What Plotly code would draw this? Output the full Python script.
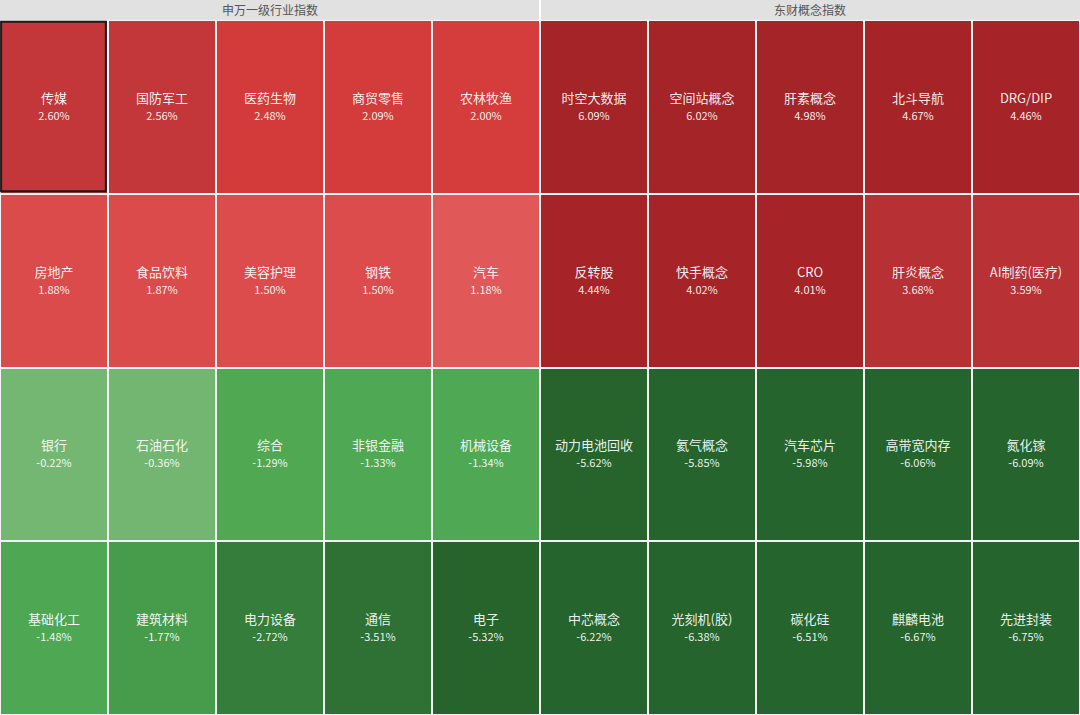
import numpy as np
import plotly.graph_objects as go

# 数据：两个板块，各4行5列，按涨跌幅从大到小排列
groups = ["申万一级行业指数", "东财概念指数"]

sw_names = ["传媒", "国防军工", "医药生物", "商贸零售", "农林牧渔",
            "房地产", "食品饮料", "美容护理", "钢铁", "汽车",
            "银行", "石油石化", "综合", "非银金融", "机械设备",
            "基础化工", "建筑材料", "电力设备", "通信", "电子"]
sw_pct = [2.60, 2.56, 2.48, 2.09, 2.00,
          1.88, 1.87, 1.50, 1.50, 1.18,
          -0.22, -0.36, -1.29, -1.33, -1.34,
          -1.48, -1.77, -2.72, -3.51, -5.32]

dc_names = ["时空大数据", "空间站概念", "肝素概念", "北斗导航", "DRG/DIP",
            "反转股", "快手概念", "CRO", "肝炎概念", "AI制药(医疗)",
            "动力电池回收", "氦气概念", "汽车芯片", "高带宽内存", "氮化镓",
            "中芯概念", "光刻机(胶)", "碳化硅", "麒麟电池", "先进封装"]
dc_pct = [6.09, 6.02, 4.98, 4.67, 4.46,
          4.44, 4.02, 4.01, 3.68, 3.59,
          -5.62, -5.85, -5.98, -6.06, -6.09,
          -6.22, -6.38, -6.51, -6.67, -6.75]

selected = "传媒"

nrow, ncol = 4, 5

# 拼成 4 x 10 的矩阵
z = np.hstack([np.array(sw_pct).reshape(nrow, ncol), np.array(dc_pct).reshape(nrow, ncol)])
names = np.hstack([np.array(sw_names).reshape(nrow, ncol), np.array(dc_names).reshape(nrow, ncol)])
txt = [[f"{names[r][c]}<br><span style='font-size:11px'>{z[r][c]:.2f}%</span>"
        for c in range(2 * ncol)] for r in range(nrow)]

zmin, zmax = -7, 7
stops = [(-7, "#25652d"), (-4.6, "#26632c"), (-4.0, "#2c6a32"), (-3.51, "#2f7135"),
         (-2.72, "#357d3a"), (-2.0, "#439849"), (-1.77, "#479c4c"), (-1.5, "#4ea752"),
         (-1.0, "#52a955"), (-0.5, "#6fb46f"), (-0.01, "#78ba76"),
         (0.01, "#e36060"), (1.18, "#e05858"), (1.4, "#dc4c4c"), (1.9, "#dc4b4b"),
         (1.95, "#d53c3c"), (2.5, "#d33b3b"), (2.54, "#c3363a"), (3.0, "#c0353a"),
         (3.55, "#b93134"), (3.75, "#b62f32"), (4.0, "#a62428"), (7, "#a42427")]
colorscale = [[(v - zmin) / (zmax - zmin), c] for v, c in stops]

fig = go.Figure(go.Heatmap(
    z=z, x=list(range(2 * ncol)), y=list(range(nrow)),
    text=txt, texttemplate="%{text}",
    textfont=dict(family="Noto Sans CJK SC", size=13, color="rgba(255,255,255,0.93)"),
    colorscale=colorscale, zmin=zmin, zmax=zmax, showscale=False,
    xgap=2, ygap=2, hoverinfo="skip",
))

# 选中方块的黑框
idx = sw_names.index(selected)
r0, c0 = divmod(idx, ncol)
fig.add_shape(type="rect", xref="x", yref="y",
              x0=c0 - 0.5 + 0.01, x1=c0 + 0.5 - 0.02, y0=r0 - 0.5 + 0.01, y1=r0 + 0.5 - 0.015,
              line=dict(color="#1a1a1a", width=2))

head_h = 20 / 715
# 顶部分组标题栏
fig.add_shape(type="rect", xref="paper", yref="paper", x0=0, x1=1, y0=1 - head_h, y1=1,
              fillcolor="#e1e1e1", line_width=0, layer="below")
fig.add_shape(type="line", xref="paper", yref="paper", x0=0.5, x1=0.5, y0=1 - head_h, y1=1,
              line=dict(color="#ffffff", width=2))
for i, g in enumerate(groups):
    fig.add_annotation(text=g, xref="paper", yref="paper", x=0.25 + 0.5 * i, y=1 - head_h / 2,
                       xanchor="center", yanchor="middle", showarrow=False,
                       font=dict(family="Noto Sans CJK SC", size=12, color="#555555"))

fig.update_xaxes(visible=False, range=[-0.5, 2 * ncol - 0.5])
fig.update_yaxes(visible=False, autorange="reversed", domain=[0, 1 - head_h])
fig.update_layout(width=1080, height=715, margin=dict(l=0, r=0, t=0, b=0),
                  plot_bgcolor="#f4f4f4", paper_bgcolor="#f4f4f4")

fig.write_html("out.html", config={"displayModeBar": False},
               post_script="document.body.style.margin='0';")
